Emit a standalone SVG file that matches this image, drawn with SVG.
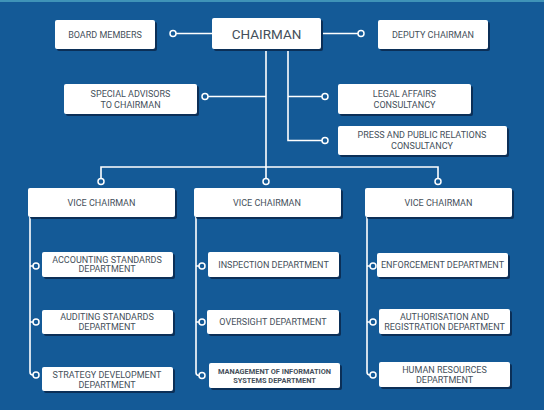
<svg xmlns="http://www.w3.org/2000/svg" width="544" height="410" viewBox="0 0 544 410">
<style>
.bg{fill:#145a97}
.sh{fill:#0b2f57}
.box{fill:#ffffff}
.t{font-family:Roboto,"Liberation Sans",sans-serif;font-size:9px;fill:#45505b;text-anchor:middle;dominant-baseline:central}
.big{font-size:13.5px}
.sm{font-size:7.4px;font-weight:bold}
.ln{fill:none;stroke:#ffffff;stroke-width:1.6}
.dot{fill:#145a97;stroke:#ffffff;stroke-width:1.5}
</style>
<rect class="bg" x="0" y="0" width="544" height="410"/>
<rect x="0" y="0" width="544" height="2" fill="#3f93b8"/>
<g id="connectors">
<path class="ln" d="M176,33.5H212"/>
<circle class="dot" cx="173" cy="33.5" r="3"/>
<path class="ln" d="M321,33.5H358"/>
<circle class="dot" cx="361" cy="33.5" r="3"/>
<path class="ln" d="M266,49V167"/>
<path class="ln" d="M208,96.5H266"/>
<circle class="dot" cx="205" cy="96.5" r="3"/>
<path class="ln" d="M288,49V140.5H322M288,96.5H322"/>
<circle class="dot" cx="325" cy="96.5" r="3"/>
<circle class="dot" cx="325" cy="140.5" r="3"/>
<path class="ln" d="M101,178.5V167H438V178.5M266,167V178.5"/>
<circle class="dot" cx="101" cy="181.5" r="3"/>
<circle class="dot" cx="266" cy="181.5" r="3"/>
<circle class="dot" cx="438" cy="181.5" r="3"/>
<path class="ln" d="M30,217V372Q30,375 33,375M30,266H33M30,322H33"/>
<circle class="dot" cx="36" cy="266" r="3"/>
<circle class="dot" cx="36" cy="322" r="3"/>
<circle class="dot" cx="36" cy="375" r="3"/>
<path class="ln" d="M196,217V372.5Q196,375.5 199,375.5M196,266H199M196,322H199"/>
<circle class="dot" cx="202" cy="266" r="3"/>
<circle class="dot" cx="202" cy="322" r="3"/>
<circle class="dot" cx="202" cy="375.5" r="3"/>
<path class="ln" d="M367,217V372Q367,375 370,375M367,266H370M367,322H370"/>
<circle class="dot" cx="373" cy="266" r="3"/>
<circle class="dot" cx="373" cy="322" r="3"/>
<circle class="dot" cx="373" cy="375" r="3"/>
</g>
<g id="board"><rect class="sh" x="57" y="22" width="100" height="29" rx="2"/><rect class="box" x="55" y="20" width="100" height="29" rx="2"/><text class="t" x="105" y="34.5">BOARD MEMBERS</text></g>
<g id="chairman"><rect class="sh" x="214" y="20" width="109" height="31" rx="2"/><rect class="box" x="212" y="18" width="109" height="31" rx="2"/><text class="t big" x="266.5" y="34">CHAIRMAN</text></g>
<g id="deputy"><rect class="sh" x="380" y="22" width="110" height="29" rx="2"/><rect class="box" x="378" y="20" width="110" height="29" rx="2"/><text class="t" x="433" y="34.5">DEPUTY CHAIRMAN</text></g>
<g id="special"><rect class="sh" x="66" y="86" width="133" height="30" rx="2"/><rect class="box" x="64" y="84" width="133" height="30" rx="2"/><text class="t" x="130.5" y="93.5">SPECIAL ADVISORS</text><text class="t" x="130.5" y="104.5">TO CHAIRMAN</text></g>
<g id="legal"><rect class="sh" x="340" y="86" width="133" height="30" rx="2"/><rect class="box" x="338" y="84" width="133" height="30" rx="2"/><text class="t" x="404.5" y="93.5">LEGAL AFFAIRS</text><text class="t" x="404.5" y="104.5">CONSULTANCY</text></g>
<g id="press"><rect class="sh" x="340" y="128" width="169" height="29" rx="2"/><rect class="box" x="338" y="126" width="169" height="29" rx="2"/><text class="t" x="422" y="135">PRESS AND PUBLIC RELATIONS</text><text class="t" x="422" y="146">CONSULTANCY</text></g>
<g id="vc1"><rect class="sh" x="30" y="190" width="147" height="29" rx="2"/><rect class="box" x="28" y="188" width="147" height="29" rx="2"/><text class="t" x="101.5" y="203">VICE CHAIRMAN</text></g>
<g id="vc2"><rect class="sh" x="196" y="190" width="147" height="29" rx="2"/><rect class="box" x="194" y="188" width="147" height="29" rx="2"/><text class="t" x="267" y="203">VICE CHAIRMAN</text></g>
<g id="vc3"><rect class="sh" x="367" y="190" width="147" height="29" rx="2"/><rect class="box" x="365" y="188" width="147" height="29" rx="2"/><text class="t" x="438.5" y="203">VICE CHAIRMAN</text></g>
<g id="accounting"><rect class="sh" x="44" y="254" width="131" height="25" rx="2"/><rect class="box" x="42" y="252" width="131" height="25" rx="2"/><text class="t" x="107" y="259.5">ACCOUNTING STANDARDS</text><text class="t" x="107" y="269">DEPARTMENT</text></g>
<g id="auditing"><rect class="sh" x="44" y="312" width="131" height="24" rx="2"/><rect class="box" x="42" y="310" width="131" height="24" rx="2"/><text class="t" x="107" y="317">AUDITING STANDARDS</text><text class="t" x="107" y="327">DEPARTMENT</text></g>
<g id="strategy"><rect class="sh" x="44" y="369" width="131" height="24" rx="2"/><rect class="box" x="42" y="367" width="131" height="24" rx="2"/><text class="t" x="107" y="374.5">STRATEGY DEVELOPMENT</text><text class="t" x="107" y="384.5">DEPARTMENT</text></g>
<g id="inspection"><rect class="sh" x="210" y="254" width="131" height="25" rx="2"/><rect class="box" x="208" y="252" width="131" height="25" rx="2"/><text class="t" x="273.5" y="264.5">INSPECTION DEPARTMENT</text></g>
<g id="oversight"><rect class="sh" x="209" y="312" width="132" height="24" rx="2"/><rect class="box" x="207" y="310" width="132" height="24" rx="2"/><text class="t" x="273" y="322">OVERSIGHT DEPARTMENT</text></g>
<g id="mis"><rect class="sh" x="211" y="365" width="131" height="25" rx="2"/><rect class="box" x="209" y="363" width="131" height="25" rx="2"/><text class="t sm" x="274.5" y="371.5">MANAGEMENT OF INFORMATION</text><text class="t sm" x="274.5" y="380.5">SYSTEMS DEPARTMENT</text></g>
<g id="enforcement"><rect class="sh" x="379" y="255" width="131" height="24" rx="2"/><rect class="box" x="377" y="253" width="131" height="24" rx="2"/><text class="t" x="442.5" y="265">ENFORCEMENT DEPARTMENT</text></g>
<g id="authorisation"><rect class="sh" x="381" y="311" width="131" height="25" rx="2"/><rect class="box" x="379" y="309" width="131" height="25" rx="2"/><text class="t" x="444.5" y="316.5">AUTHORISATION AND</text><text class="t" x="444.5" y="327">REGISTRATION DEPARTMENT</text></g>
<g id="human"><rect class="sh" x="381" y="364" width="131" height="25" rx="2"/><rect class="box" x="379" y="362" width="131" height="25" rx="2"/><text class="t" x="444.5" y="370">HUMAN RESOURCES</text><text class="t" x="444.5" y="379.5">DEPARTMENT</text></g>
</svg>
